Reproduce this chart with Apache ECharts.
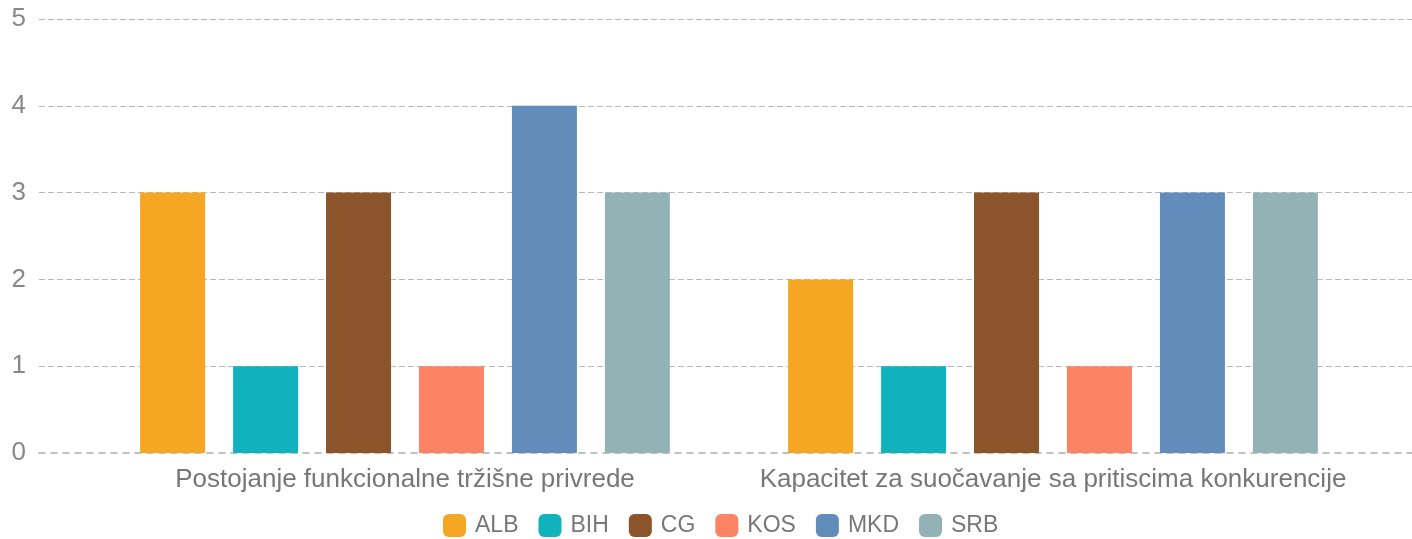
<!DOCTYPE html>
<html>
<head>
<meta charset="utf-8">
<script src="https://cdn.jsdelivr.net/npm/echarts@6/dist/echarts.min.js"></script>
<style>
html, body { margin: 0; padding: 0; background: #fff; }
#chart { width: 1412px; height: 539px; }
</style>
</head>
<body>
<div id="chart"></div>
<script>
// kategorije i vrijednosti
var categories = ['Postojanje funkcionalne tržišne privrede', 'Kapacitet za suočavanje sa pritiscima konkurencije'];
var countries = ['ALB', 'BIH', 'CG', 'KOS', 'MKD', 'SRB'];
var colors = ['#f5a623', '#10b3bd', '#8b542a', '#fc8363', '#628cba', '#93b2b6'];
var ALB = [3, 2];
var BIH = [1, 1];
var CG = [3, 3];
var KOS = [1, 1];
var MKD = [4, 3];
var SRB = [3, 3];
var values = [ALB, BIH, CG, KOS, MKD, SRB];
var yTicks = [0, 1, 2, 3, 4, 5];

var myChart = echarts.init(document.getElementById('chart'));

var series = [];
for (var i = 0; i < countries.length; i++) {
    series.push({
        name: countries[i],
        type: 'bar',
        xAxisIndex: 1,
        yAxisIndex: 1,
        data: values[i],
        barWidth: 65,
        barGap: '43%',
        itemStyle: { color: colors[i] },
        z: 10
    });
}

var option = {
    animation: false,
    textStyle: { fontFamily: 'Liberation Sans' },
    legend: {
        data: countries,
        top: 509,
        left: 438,
        padding: 5,
        itemWidth: 23,
        itemHeight: 23,
        itemGap: 20,
        icon: 'roundRect',
        textStyle: { color: '#777', fontSize: 23, padding: [0, 0, 0, 4], fontFamily: 'Liberation Sans' }
    },
    grid: [
        { left: 39, right: 0, top: 19, bottom: 86 },
        { left: 81, right: 35, top: 19, bottom: 86 }
    ],
    xAxis: [
        {
            type: 'category',
            gridIndex: 0,
            data: [''],
            z: 0,
            axisLine: { show: true, lineStyle: { color: '#aaa', type: [6, 6], width: 1.5 } },
            axisTick: { show: false },
            axisLabel: { show: false }
        },
        {
            type: 'category',
            gridIndex: 1,
            data: categories,
            axisLine: { show: false },
            axisTick: { show: false },
            axisLabel: { interval: 0, color: '#777', fontSize: 26, margin: 14, fontFamily: 'Liberation Sans' }
        }
    ],
    yAxis: [
        {
            type: 'value',
            gridIndex: 0,
            min: yTicks[0],
            max: yTicks[yTicks.length - 1],
            interval: 1,
            z: 0,
            axisLine: { show: false },
            axisTick: { show: false },
            axisLabel: { color: '#888', fontSize: 26, margin: 13, fontFamily: 'Liberation Sans' },
            splitLine: { showMinLine: false, lineStyle: { color: '#b8b8b8', type: [6, 3], width: 1 } }
        },
        {
            type: 'value',
            gridIndex: 1,
            min: yTicks[0],
            max: yTicks[yTicks.length - 1],
            interval: 1,
            show: false,
            splitLine: { show: false }
        }
    ],
    series: series
};

myChart.setOption(option);
</script>
</body>
</html>
